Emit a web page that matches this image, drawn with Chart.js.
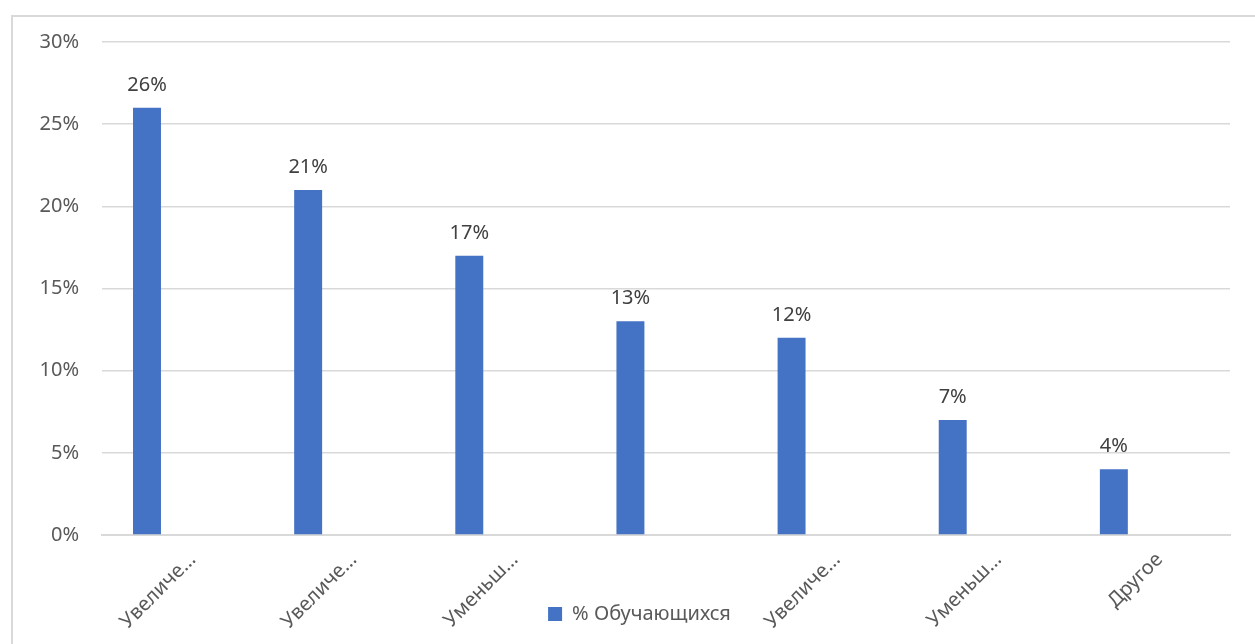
<!DOCTYPE html>
<html>
<head>
<meta charset="utf-8">
<script src="https://cdn.jsdelivr.net/npm/chart.js@4.4.1/dist/chart.umd.min.js"></script>
<style>
  html, body { margin: 0; padding: 0; background: #fff; overflow: hidden; }
  #frame {
    position: absolute; left: 11px; top: 15px;
    width: 1260px; height: 653px;
    border: 2px solid #d9d9d9;
  }
</style>
</head>
<body>
<div id="frame"><canvas id="chart"></canvas></div>
<script>
// values in percent
const categories = ['Увеличе…', 'Увеличе…', 'Уменьш…', '', 'Увеличе…', 'Уменьш…', 'Другое'];
const students = [26, 21, 17, 13, 12, 7, 4];
const emptySeries = [null, null, null, null, null, null, null];
const yTicks = [0, 5, 10, 15, 20, 25, 30];

const FONT = "'Noto Sans', 'Open Sans', sans-serif";

// data labels above bars
const valueLabels = {
  id: 'valueLabels',
  afterDatasetsDraw(chart) {
    const ctx = chart.ctx;
    const meta = chart.getDatasetMeta(0);
    ctx.save();
    ctx.font = '20px ' + FONT;
    ctx.fillStyle = '#404040';
    ctx.textAlign = 'center';
    ctx.textBaseline = 'alphabetic';
    meta.data.forEach((bar, i) => {
      ctx.fillText(students[i] + '%', bar.x, bar.y - 17);
    });
    ctx.restore();
  }
};

// legend sits over the category labels, like in the original
const liftLegend = {
  id: 'liftLegend',
  afterLayout(chart) {
    const lg = chart.legend;
    lg.top -= 36; lg.bottom -= 36;
    lg.left += 18; lg.right += 18;
  }
};

new Chart(document.getElementById('chart'), {
  type: 'bar',
  data: {
    labels: categories,
    datasets: [
      {
        label: '% Обучающихся',
        data: students,
        backgroundColor: '#4472C4',
        categoryPercentage: 0.883,
        barPercentage: 0.393
      },
      {
        label: '',
        data: emptySeries,
        backgroundColor: '#ED7D31',
        categoryPercentage: 0.883,
        barPercentage: 0.393
      }
    ]
  },
  options: {
    responsive: true,
    maintainAspectRatio: false,
    animation: false,
    layout: { padding: { left: 0, right: 43, top: 25, bottom: 0 } },
    scales: {
      y: {
        min: 0,
        max: 30,
        afterBuildTicks: (axis) => { axis.ticks = yTicks.map(v => ({ value: v })); },
        afterFit: (scale) => { scale.width = 89; scale.paddingTop = 0; scale.paddingBottom = 0; },
        ticks: {
          padding: 23,
          color: '#595959',
          font: { family: FONT, size: 20 },
          callback: (v) => v + '%'
        },
        grid: { color: '#d9d9d9', lineWidth: 1.5, drawTicks: false },
        border: { display: false }
      },
      x: {
        afterFit: (scale) => { scale.height = 95; scale.paddingTop = 0; },
        ticks: {
          minRotation: 45,
          maxRotation: 45,
          padding: 13,
          labelOffset: 10,
          color: '#595959',
          font: { family: FONT, size: 20 }
        },
        grid: { display: false, drawTicks: false },
        border: { color: '#d9d9d9', width: 2 }
      }
    },
    plugins: {
      legend: {
        position: 'bottom',
        labels: {
          boxWidth: 14,
          boxHeight: 14,
          color: '#595959',
          font: { family: FONT, size: 20 },
          filter: (item) => item.datasetIndex === 0
        }
      },
      tooltip: { enabled: false }
    }
  },
  plugins: [valueLabels, liftLegend]
});
</script>
</body>
</html>
